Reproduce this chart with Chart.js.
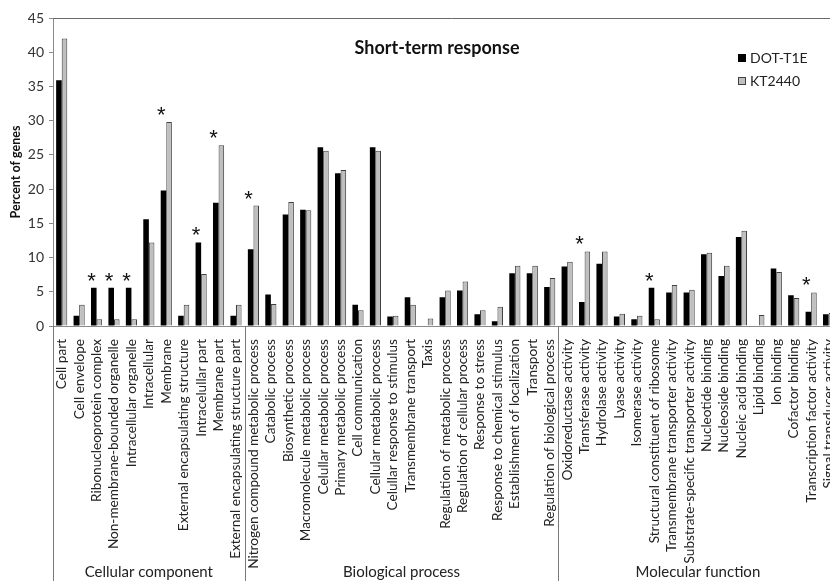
<!DOCTYPE html>
<html>
<head>
<meta charset="utf-8">
<script src="https://cdn.jsdelivr.net/npm/chart.js@4.4.1/dist/chart.umd.min.js"></script>
<style>
  html, body { margin: 0; padding: 0; background: #fff; overflow: hidden; }
  #wrap { width: 850px; height: 581px; }
</style>
</head>
<body>
<div id="wrap"><canvas id="chart" width="850" height="581"></canvas></div>
<script>
const categories = [
  "Cell part", "Cell envelope", "Ribonucleoprotein complex", "Non-membrane-bounded organelle",
  "Intracellular organelle", "Intracellular", "Membrane", "External encapsulating structure",
  "Intracelullar part", "Membrane part", "External encapsulating structure part",
  "Nitrogen compound metabolic process", "Catabolic process", "Biosynthetic process",
  "Macromolecule metabolic process", "Celullar metabolic process", "Primary metabolic process",
  "Cell communication", "Cellular metabolic process", "Celullar response to stimulus",
  "Transmembrane transport", "Taxis", "Regulation of metabolic process",
  "Regulation of cellular process", "Response to stress", "Response to chemical stimulus",
  "Establishment of localization", "Transport", "Regulation of biological process",
  "Oxidoreductase activity", "Transferase activity", "Hydrolase activity", "Lyase activity",
  "Isomerase activity", "Structural constituent of ribosome", "Transmembrane transporter activity",
  "Substrate-specific transporter activity", "Nucleotide binding", "Nucleoside binding",
  "Nucleic acid binding", "Lipid binding", "Ion binding", "Cofactor binding",
  "Transcription factor activity", "Signal transducer activity"
]

const dotT1E = [
  35.9, 1.5, 5.6, 5.6, 5.6, 15.6, 19.8, 1.5, 12.2, 18.0, 1.5,
  11.2, 4.6, 16.3, 17.0, 26.1, 22.3, 3.1, 26.1, 1.4, 4.2, 0, 4.2, 5.2, 1.7, 0.7, 7.7, 7.7, 5.7,
  8.7, 3.5, 9.1, 1.4, 1.0, 5.6, 4.9, 4.9, 10.5, 7.3, 13.0, 0, 8.4, 4.5, 2.1, 1.7
]

const kt2440 = [
  42.0, 3.1, 1.0, 1.0, 1.0, 12.2, 29.8, 3.1, 7.6, 26.4, 3.1,
  17.6, 3.2, 18.1, 16.9, 25.6, 22.8, 2.3, 25.6, 1.5, 3.1, 1.1, 5.2, 6.5, 2.3, 2.8, 8.8, 8.8, 7.0,
  9.4, 10.9, 10.9, 1.8, 1.5, 1.0, 6.0, 5.3, 10.7, 8.8, 13.9, 1.6, 7.9, 4.1, 4.9, 1.9
]

// categories marked with an asterisk
const significant = [2, 3, 4, 6, 8, 9, 11, 30, 34, 43]

const groupNames = ["Cellular component", "Biological process", "Molecular function"]
const groupSizes = [11, 18, 16]

const yTicks = [0, 5, 10, 15, 20, 25, 30, 35, 40, 45]

const FONT = "Lato, 'Open Sans', sans-serif"

const extras = {
  id: "extras",
  afterDraw(chart) {
    const { ctx, chartArea, scales } = chart
    const x = scales.x
    const y = scales.y
    const H = chart.height
    const W = chart.width
    ctx.save()

    // top frame line
    ctx.strokeStyle = "#6a6a6a"
    ctx.lineWidth = 1
    ctx.beginPath()
    ctx.moveTo(chartArea.left, Math.round(chartArea.top) + 0.5)
    ctx.lineTo(W, Math.round(chartArea.top) + 0.5)
    ctx.stroke()

    // group separators and labels
    const step = x.getPixelForValue(1) - x.getPixelForValue(0)
    ctx.strokeStyle = "#7a7a7a"
    let start = 0
    groupSizes.forEach((n, gi) => {
      const x0 = x.getPixelForValue(start) - step / 2
      const x1 = x.getPixelForValue(start + n - 1) + step / 2
      ctx.beginPath()
      ctx.moveTo(Math.round(x0) + 0.5, chartArea.bottom)
      ctx.lineTo(Math.round(x0) + 0.5, H)
      ctx.stroke()
      ctx.fillStyle = "#222"
      ctx.font = "15px " + FONT
      ctx.textAlign = "center"
      ctx.textBaseline = "middle"
      ctx.fillText(groupNames[gi], (x0 + x1) / 2, 572)
      start += n
    })

    // asterisks
    ctx.fillStyle = "#111"
    ctx.font = "22px 'Liberation Sans', sans-serif"
    ctx.textAlign = "center"
    ctx.textBaseline = "alphabetic"
    const m = ctx.measureText("*")
    const shift = (m.actualBoundingBoxAscent - m.actualBoundingBoxDescent) / 2
    significant.forEach(i => {
      const top = y.getPixelForValue(Math.max(dotT1E[i], kt2440[i]))
      ctx.fillText("*", x.getPixelForValue(i) - 5, top - 11 + shift)
    })

    // title
    ctx.fillStyle = "#111"
    ctx.font = "bold 18px " + FONT
    ctx.textAlign = "center"
    ctx.textBaseline = "middle"
    ctx.fillText("Short-term response", 437, 48)

    // legend
    ctx.font = "14px " + FONT
    ctx.textAlign = "left"
    ctx.fillStyle = "#000"
    ctx.fillRect(738, 54, 8, 8)
    ctx.fillStyle = "#bfbfbf"
    ctx.fillRect(738, 77, 8, 8)
    ctx.strokeStyle = "#404040"
    ctx.strokeRect(738.5, 77.5, 7, 7)
    ctx.fillStyle = "#222"
    ctx.fillText("DOT-T1E", 750, 58)
    ctx.fillText("KT2440", 750, 81)

    ctx.restore()
  }
}

new Chart(document.getElementById("chart"), {
  type: "bar",
  data: {
    labels: categories,
    datasets: [
      {
        label: "DOT-T1E",
        data: dotT1E,
        backgroundColor: "#000",
        borderWidth: 0,
        categoryPercentage: 0.64,
        barPercentage: 1.0
      },
      {
        label: "KT2440",
        data: kt2440,
        backgroundColor: "#bfbfbf",
        borderColor: "#404040",
        borderWidth: 1,
        categoryPercentage: 0.64,
        barPercentage: 1.0
      }
    ]
  },
  options: {
    responsive: false,
    animation: false,
    devicePixelRatio: 1,
    layout: { padding: { top: 18, right: 8, left: 0, bottom: 0 } },
    plugins: {
      legend: { display: false },
      tooltip: { enabled: false }
    },
    scales: {
      x: {
        grid: { display: false },
        border: { display: true, color: "#8a8a8a" },
        ticks: {
          color: "#222",
          font: { family: FONT, size: 13.6 },
          minRotation: 90,
          maxRotation: 90,
          autoSkip: false,
          padding: 5
        },
        afterFit: s => { s.height = 255 }
      },
      y: {
        min: 0,
        max: 45,
        afterBuildTicks: s => { s.ticks = yTicks.map(v => ({ value: v })) },
        grid: { drawOnChartArea: false, drawTicks: true, tickLength: 4, color: "#8a8a8a" },
        border: { display: true, color: "#8a8a8a" },
        ticks: {
          color: "#333",
          font: { family: FONT, size: 14 },
          padding: 5
        },
        title: {
          display: true,
          text: "Percent of genes",
          color: "#111",
          font: { family: FONT, size: 12.5, weight: "bold" },
          padding: { top: 8, bottom: 2 }
        },
        afterFit: s => { s.width = 53 }
      }
    }
  },
  plugins: [extras]
})
</script>
</body>
</html>
